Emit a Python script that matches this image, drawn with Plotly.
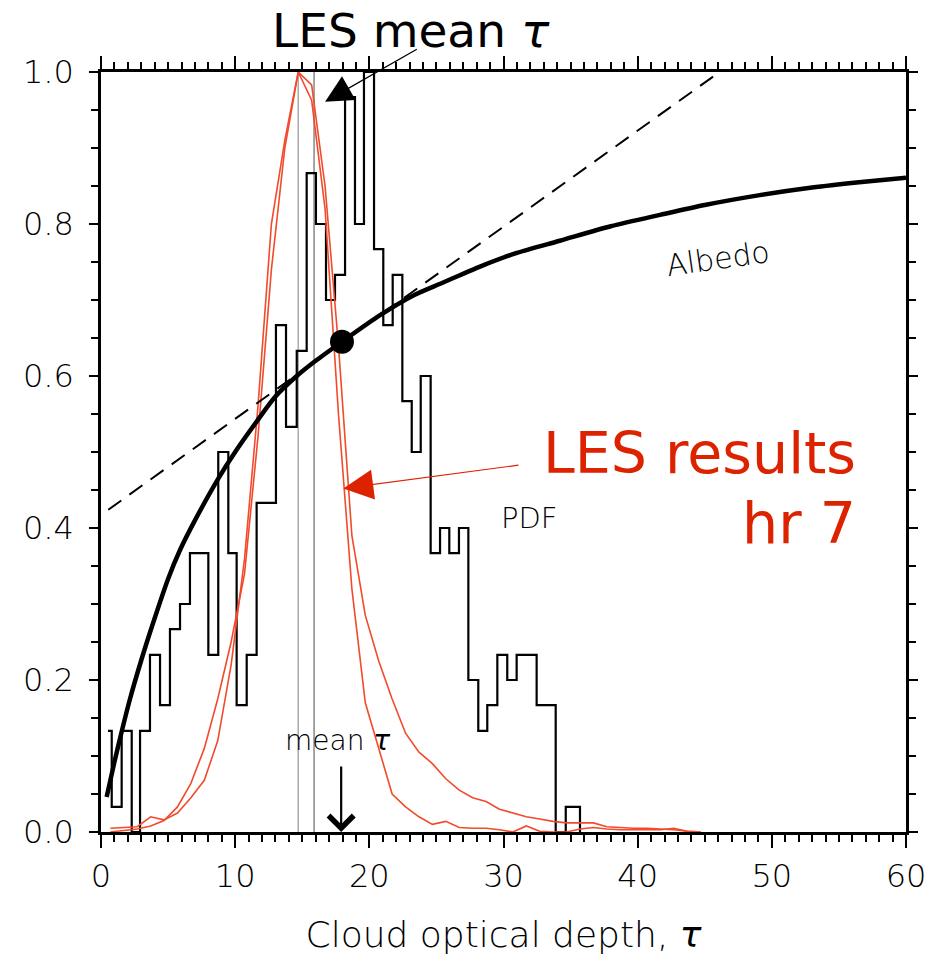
import plotly.graph_objects as go

# ---------------- data ----------------
# PDF histogram (step edges in tau, bin values)
pdf_edges = [0.52, 0.80, 1.54, 2.29, 2.91, 3.65, 4.40, 5.14, 5.89, 6.63, 8.00, 8.74,
             9.49, 10.11, 10.86, 11.60, 13.04, 13.79, 14.59, 15.33, 16.02, 16.77, 17.44,
             18.19, 18.93, 19.60, 20.35, 21.04, 21.74, 22.46, 23.16, 23.83, 24.57, 25.27,
             25.96, 26.68, 27.38, 28.12, 28.79, 29.54, 30.28, 30.98, 32.47, 33.89, 34.64, 35.70]
pdf_values = [0.133, 0.033, 0.133, 0.0, 0.133, 0.233, 0.167, 0.267, 0.300, 0.367, 0.233,
              0.500, 0.367, 0.167, 0.233, 0.433, 0.667, 0.533, 0.633, 0.867, 0.800, 0.700,
              0.733, 0.967, 0.800, 1.000, 0.767, 0.667, 0.733, 0.567, 0.500, 0.600, 0.367,
              0.400, 0.367, 0.400, 0.200, 0.133, 0.167, 0.233, 0.200, 0.233, 0.167, 0.0, 0.033]

# Albedo curve
albedo_tau = [0.42, 1.0, 1.54, 2.16, 3.0, 3.9, 5.0, 5.89, 7.0, 8.74, 10.0, 11.6, 13.0, 14.59,
              16.0, 17.96, 20.8, 23.28, 25.5, 28.25, 31.0, 34.2, 38.0, 41.66, 45.0, 49.1,
              53.0, 56.5, 60.0]
albedo_val = [0.046, 0.092, 0.132, 0.175, 0.226, 0.276, 0.333, 0.371, 0.410, 0.465, 0.500,
              0.540, 0.573, 0.600, 0.620, 0.645, 0.680, 0.706, 0.723, 0.744, 0.762, 0.778,
              0.797, 0.812, 0.825, 0.838, 0.848, 0.855, 0.861]

# Tangent (dashed) line at mean tau
tangent_tau = [0.54, 46.1]
tangent_val = [0.424, 1.0]

# Albedo at mean tau (dot)
mean_tau = [17.96]
mean_albedo = [0.645]

# LES results hr 7 (two red curves)
les_tau = [0.7, 1.7, 2.7, 3.7, 4.7, 5.7, 6.7, 7.7, 8.7, 9.7, 10.7, 11.7, 12.7, 13.7, 14.7,
           15.7, 16.7, 17.7, 18.7, 19.7, 20.7, 21.7, 22.7, 23.7, 24.7, 25.7, 26.7, 27.7,
           28.7, 29.7, 30.7, 31.7, 32.7, 33.7, 34.7, 35.7, 36.7, 37.7, 38.7, 39.7, 40.7,
           41.7, 42.7, 43.7, 44.7]
les_a = [0.005, 0.006, 0.007, 0.020, 0.016, 0.025, 0.045, 0.068, 0.120, 0.220, 0.360, 0.560,
         0.800, 0.910, 1.000, 0.983, 0.850, 0.640, 0.390, 0.285, 0.225, 0.175, 0.130, 0.105,
         0.090, 0.070, 0.055, 0.045, 0.040, 0.030, 0.025, 0.020, 0.017, 0.014, 0.012, 0.012,
         0.012, 0.007, 0.006, 0.005, 0.005, 0.004, 0.003, 0.001, 0.0]
les_b = [0.0, 0.002, 0.004, 0.008, 0.015, 0.033, 0.064, 0.110, 0.175, 0.250, 0.340, 0.520,
         0.740, 0.900, 1.000, 0.963, 0.820, 0.550, 0.320, 0.170, 0.110, 0.050, 0.033, 0.020,
         0.010, 0.014, 0.006, 0.005, 0.005, 0.003, 0.0, 0.008, 0.001, 0.0, 0.0, 0.004, 0.006,
         0.004, 0.003, 0.003, 0.003, 0.003, 0.005, 0.001, 0.0]

# LES mean tau marker lines
les_mean_lines = [14.7, 15.88]
les_line_colors = ["#aaaaaa", "#888888"]

x_ticks = [0, 10, 20, 30, 40, 50, 60]
y_ticks = [0.0, 0.2, 0.4, 0.6, 0.8, 1.0]
y_ticklabels = ["0.0", "0.2", "0.4", "0.6", "0.8", "1.0"]

# ---------------- figure ----------------
OLD_FONT = "DejaVu Sans"
RED_TEXT = "#dd2200"
RED_LINE = "#f24a2c"

fig = go.Figure()

# gray LES mean lines
for xv, col in zip(les_mean_lines, les_line_colors):
    fig.add_trace(go.Scatter(x=[xv, xv], y=[0, 1], mode="lines",
                             line=dict(color=col, width=1.5), hoverinfo="skip", showlegend=False))

# histogram as steps
hx, hy = [], []
for i, v in enumerate(pdf_values):
    hx += [pdf_edges[i], pdf_edges[i + 1]]
    hy += [v, v]
hx.append(pdf_edges[-1])
hy.append(0.0)
fig.add_trace(go.Scatter(x=hx, y=hy, mode="lines", line=dict(color="black", width=2.2),
                         showlegend=False, hoverinfo="skip"))

# red LES curves
for vals in (les_a, les_b):
    fig.add_trace(go.Scatter(x=les_tau, y=vals, mode="lines",
                             line=dict(color=RED_LINE, width=1.6), showlegend=False))

# tangent dashed
fig.add_trace(go.Scatter(x=tangent_tau, y=tangent_val, mode="lines",
                         line=dict(color="black", width=2, dash="16px,10px"), showlegend=False))

# albedo curve
fig.add_trace(go.Scatter(x=albedo_tau, y=albedo_val, mode="lines",
                         line=dict(color="black", width=4.5, shape="spline", smoothing=0.8),
                         showlegend=False))

# mean point
fig.add_trace(go.Scatter(x=mean_tau, y=mean_albedo, mode="markers",
                         marker=dict(color="black", size=24), showlegend=False))

ann = []
# "LES mean tau" header and arrow
ann.append(dict(x=0.385, y=1.054, xref="paper", yref="paper", text="LES mean <i>τ</i>",
                showarrow=False, font=dict(family="DejaVu Sans", size=47, color="black"),
                xanchor="center", yanchor="middle"))
ann.append(dict(x=16.7, y=0.961, ax=23.65, ay=1.031, xref="x", yref="y", axref="x", ayref="y",
                text="", showarrow=True, arrowhead=2, arrowsize=4.2, arrowwidth=1.3,
                arrowcolor="black"))
# LES results hr 7
ann.append(dict(x=56.42, y=0.499, xref="x", yref="y", text="LES results", showarrow=False,
                font=dict(family="DejaVu Sans", size=57, color=RED_TEXT),
                xanchor="right", yanchor="middle"))
ann.append(dict(x=56.42, y=0.407, xref="x", yref="y", text="hr 7", showarrow=False,
                font=dict(family="DejaVu Sans", size=57, color=RED_TEXT),
                xanchor="right", yanchor="middle"))
ann.append(dict(x=18.06, y=0.452, ax=31.23, ay=0.483, xref="x", yref="y", axref="x", ayref="y",
                text="", showarrow=True, arrowhead=2, arrowsize=5.0, arrowwidth=1.2,
                arrowcolor=RED_TEXT))
# Albedo / PDF labels
ann.append(dict(x=46.0, y=0.755, xref="x", yref="y", text="Albedo", showarrow=False,
                textangle=-8, font=dict(family=OLD_FONT, size=30, color="black", weight=200)))
ann.append(dict(x=31.97, y=0.413, xref="x", yref="y", text="PDF", showarrow=False,
                font=dict(family=OLD_FONT, size=29, color="black", weight=200)))
# mean tau
ann.append(dict(x=17.6, y=0.121, xref="x", yref="y", text="mean <i>τ</i>", showarrow=False,
                font=dict(family=OLD_FONT, size=28, color="black", weight=200)))
ann.append(dict(x=17.9, y=0.0, ax=17.9, ay=0.088, xref="x", yref="y", axref="x", ayref="y",
                text="", showarrow=True, arrowhead=4, arrowsize=2.2, arrowwidth=2.2,
                arrowcolor="black"))

axis_common = dict(showline=True, linecolor="black", linewidth=2.5, mirror="allticks",
                   ticks="outside", tickcolor="black", tickwidth=2, showgrid=False,
                   zeroline=False, automargin=False,
                   tickfont=dict(family=OLD_FONT, size=32, color="black", weight=200))

fig.update_xaxes(range=[0, 60], tickvals=x_ticks, ticklen=13, ticklabelstandoff=1,
                 minor=dict(dtick=1, ticks="outside", ticklen=7, tickcolor="black", tickwidth=1.5),
                 title=dict(text="Cloud optical depth, <i>τ</i>", standoff=28,
                            font=dict(family=OLD_FONT, size=36, color="black", weight=200)),
                 **axis_common)
fig.update_yaxes(range=[0, 1.0], tickvals=y_ticks, ticktext=y_ticklabels, ticklen=9,
                 ticklabelstandoff=9,
                 minor=dict(dtick=0.05, ticks="outside", ticklen=7, tickcolor="black", tickwidth=1.5),
                 **axis_common)

fig.update_layout(width=927, height=957, margin=dict(l=101, r=21, t=72, b=125),
                  plot_bgcolor="white", paper_bgcolor="white", annotations=ann,
                  showlegend=False)

post = ("document.body.style.margin='0px';document.body.style.overflow='hidden';"
        "var gd=document.getElementById('{plot_id}');"
        "Plotly.relayout(gd,{width:927,height:957});")
fig.write_html("out.html", post_script=post, config={"displayModeBar": False})
